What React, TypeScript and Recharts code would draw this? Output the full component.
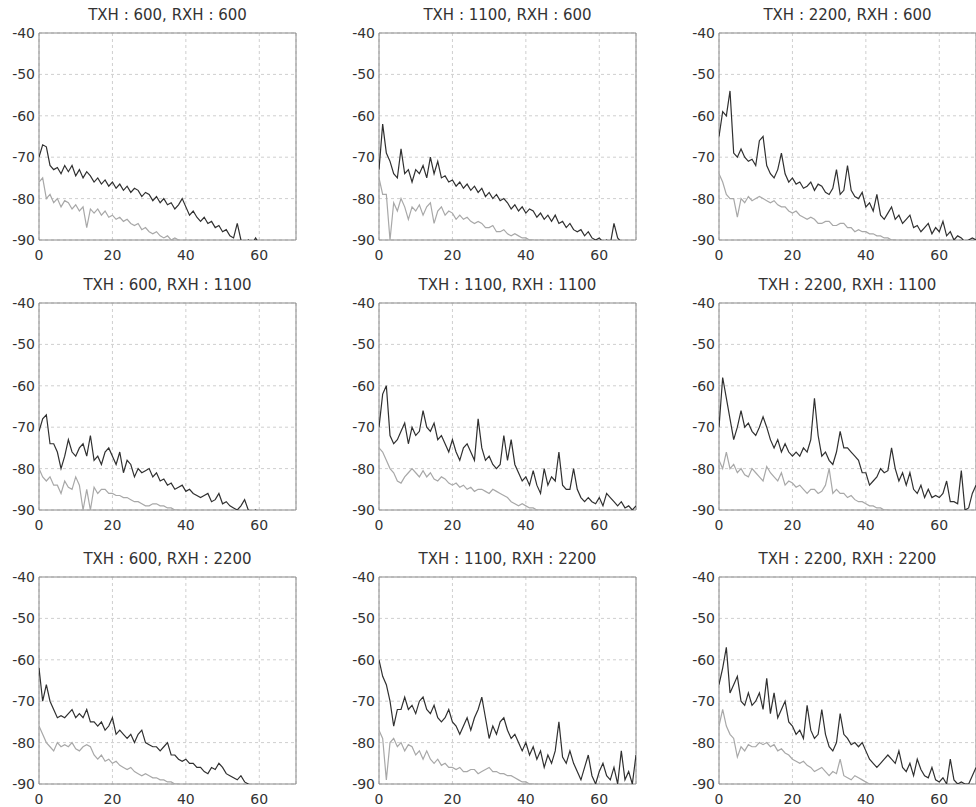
import React from 'react'
import { LineChart, Line, XAxis, YAxis, CartesianGrid, ReferenceArea } from 'recharts'

// distance axis (one sample per unit)
const DIST = [
  0, 1, 2, 3, 4, 5, 6, 7, 8, 9, 10, 11, 12, 13, 14, 15, 16, 17, 18, 19,
  20, 21, 22, 23, 24, 25, 26, 27, 28, 29, 30, 31, 32, 33, 34, 35, 36, 37, 38, 39,
  40, 41, 42, 43, 44, 45, 46, 47, 48, 49, 50, 51, 52, 53, 54, 55, 56, 57, 58, 59,
  60, 61, 62, 63, 64, 65, 66, 67, 68, 69, 70,
]
const X_TICKS = [0, 20, 40, 60]
const Y_TICKS = [-90, -80, -70, -60, -50, -40]

const TITLES = [
  'TXH : 600, RXH : 600', 'TXH : 1100, RXH : 600', 'TXH : 2200, RXH : 600',
  'TXH : 600, RXH : 1100', 'TXH : 1100, RXH : 1100', 'TXH : 2200, RXH : 1100',
  'TXH : 600, RXH : 2200', 'TXH : 1100, RXH : 2200', 'TXH : 2200, RXH : 2200',
]

// dark = upper trace, light = lower trace (dB)
const dark600_600 = [
  -70, -67, -67.5, -72, -73, -72.5, -74, -72, -73.5, -72, -74.5, -73, -75, -73.5, -74.5, -76, -75, -76.5, -75.5, -77,
  -76, -77.5, -76.5, -78, -77, -78.5, -77.5, -78, -79.5, -78.5, -79, -80.5, -79.5, -81, -80, -81.5, -81, -82.5, -81.5, -80,
  -82, -84, -83, -84.5, -85.5, -84.5, -86, -85.5, -87, -86.5, -88, -87.5, -89, -89.5, -86, -90, -91, -90, -91, -89.5,
  -91,
]
const light600_600 = [
  -76, -75, -80, -79, -81, -80, -82, -80.5, -81, -82.5, -81.5, -83, -82, -87, -82.5, -83.5, -82.5, -84, -83, -84.5,
  -84, -85, -84.5, -85.5, -85, -86, -86.5, -86, -87.5, -87, -88, -88.5, -88, -89, -89.5, -89, -90, -89.5, -90, -90.5,
  -90, -91,
]
const dark1100_600 = [
  -73, -62, -69, -71, -74, -75, -68, -74, -73, -76, -73, -74, -72, -75, -70, -74, -71, -75, -74.5, -76,
  -75.5, -77, -76, -77.5, -76.5, -78, -77, -78.5, -77.5, -79.5, -78.5, -80, -79, -80.5, -80, -81, -82.5, -81.5, -83, -82,
  -83.5, -82.5, -83, -84.5, -83.5, -85, -84, -85.5, -84, -86, -85.5, -87, -86, -87.5, -88, -87.5, -89, -88, -89.5, -90,
  -89.5, -90.5, -90, -91, -86, -89.5, -90.5, -91,
]
const light1100_600 = [
  -75, -79, -79, -90, -81, -83, -80, -82, -85, -82, -83, -81.5, -84, -82, -81, -86, -83, -82, -84, -83,
  -83.5, -85, -84, -85, -84.5, -85.5, -86, -85.5, -86, -87, -87, -86.5, -88, -88, -87.5, -88.5, -89, -88.5, -89, -89.5,
  -89.5, -90, -90, -90.5, -90, -91,
]
const dark2200_600 = [
  -65, -59, -60, -54, -69, -70, -68, -70, -71, -70.5, -72, -66, -65, -72, -74, -75, -73, -69, -74, -76,
  -75, -76.5, -76, -77.5, -77, -76, -78, -76.5, -77, -78.5, -79, -77.5, -73, -79, -78, -72, -78, -79.5, -80, -78.5,
  -82, -81, -83, -79, -84, -85, -83.5, -82, -85, -84, -86, -85, -84, -87, -86.5, -88, -87, -86, -88.5, -87,
  -88, -85.5, -89, -88, -90, -89, -89.5, -90.5, -90, -89.5, -90,
]
const light2200_600 = [
  -74, -76, -79, -80, -80, -84.5, -80, -81, -79.5, -80.5, -80, -79.5, -80, -80.5, -81, -80.5, -81.5, -82, -82, -83,
  -83.5, -83, -84, -84.5, -85, -84.5, -85, -86, -86, -85.5, -85.5, -86.5, -86.5, -86, -86, -87, -87, -88, -87.5, -88,
  -88, -88.5, -88.5, -89, -89, -89.5, -89.5, -90, -90, -90.5,
]
const dark600_1100 = [
  -71, -68, -67, -74, -74, -76, -80, -77, -73, -76, -77, -75, -74, -77, -72, -78, -77, -79, -76, -75,
  -77, -79, -76, -81, -78, -79, -82, -80, -81, -80.5, -80, -82, -81, -83, -82.5, -84, -83.5, -85, -84.5, -84,
  -85.5, -85, -86, -86.5, -87, -86.5, -86, -88, -87.5, -86, -88.5, -88, -89, -89.5, -90, -89, -87.5, -90, -90.5, -90,
  -91,
]
const light600_1100 = [
  -80, -82, -83, -82, -84, -84, -86, -83, -84.5, -85, -82, -84, -90, -85, -90, -84.5, -86, -85, -85, -86,
  -86, -86.5, -86.5, -87, -87, -87.5, -88, -88, -88.5, -89, -89, -88.5, -88.5, -89, -89, -89.5, -89.5, -90, -90, -91,
]
const dark1100_1100 = [
  -70, -62, -60, -72, -74, -73, -71, -69, -74, -70, -72, -71, -66, -70, -71, -69, -73, -72, -74, -76,
  -73, -76, -78, -75, -74, -76, -78, -68, -75, -78, -77, -79, -80, -79, -72, -78, -73, -79, -81, -83,
  -82, -84, -80.5, -84, -86, -80, -84, -82, -83, -76, -84, -85, -85, -80, -85, -87, -88, -87, -88, -88.5,
  -87, -89, -86, -87, -88, -89, -88, -89.5, -89, -90, -89,
]
const light1100_1100 = [
  -75, -76, -78, -80, -81, -83, -83.5, -82, -81, -80, -81, -82, -80.5, -82, -81, -82.5, -83, -82, -82.5, -83.5,
  -84, -83.5, -84.5, -84, -85, -84.5, -85.5, -85, -85, -85.5, -86, -85, -85.5, -86, -86.5, -87, -88, -88.5, -89, -88.5,
  -89, -89.5, -89.5, -90, -90, -90.5, -91,
]
const dark2200_1100 = [
  -70, -58, -63, -68, -73, -70, -66, -70, -69, -71, -72, -70, -67.5, -70, -73, -75, -73, -76, -74, -76,
  -77, -76, -77, -75, -76, -73, -63, -72, -77, -76, -78, -79, -76, -71, -75, -75, -76, -77, -78, -81,
  -81, -84, -83, -82, -80, -81, -80.5, -75, -80, -83, -81, -84, -81, -85, -86, -84, -87, -85, -87, -86.5,
  -87, -86, -83, -88, -88, -88.5, -80.5, -90, -89.5, -86, -84,
]
const light2200_1100 = [
  -78, -80, -76, -80, -79, -81, -80, -81.5, -82, -80, -81, -82, -83, -79.5, -81, -82, -83, -81, -84, -83,
  -83.5, -84.5, -84, -85, -86, -85, -85, -86, -85.5, -84, -80, -86, -85, -86, -86, -87, -86.5, -87.5, -88, -88,
  -88.5, -89, -89, -89.5, -89.5, -90, -90, -90.5, -91,
]
const dark600_2200 = [
  -62, -70, -66, -70, -72, -74, -73.5, -74, -73, -72, -74, -73, -74, -72, -75, -75, -76, -75, -77, -76,
  -74, -78, -77, -78, -79, -78, -80, -78, -77, -80, -80.5, -81, -81, -82, -81, -80, -83, -83, -84, -84.5,
  -84, -85, -85, -86, -86, -87, -87.5, -86, -86.5, -85, -86, -87.5, -88, -88.5, -89, -88, -89.5, -90, -90.5, -91,
]
const light600_2200 = [
  -76, -78, -80, -81, -82, -80, -81, -80.5, -81, -80, -81.5, -82, -81, -80.5, -81, -83, -84, -83, -84.5, -84,
  -85, -84.5, -85.5, -86, -86.5, -86, -87, -87.5, -88, -87.5, -88, -88.5, -88.5, -89, -89, -89.5, -89.5, -90, -90, -90.5,
  -91,
]
const dark1100_2200 = [
  -60, -64, -66, -70, -76, -72, -72, -69, -72, -71, -73, -70, -69, -72, -73, -71, -74, -75, -74, -72,
  -75, -76, -78, -76, -74, -77, -74, -72, -69, -74, -79, -76, -78, -75, -74, -77, -79, -78, -80, -82,
  -80, -83, -81, -84, -82, -86, -83, -85, -82, -75, -83.5, -85, -82, -85, -87, -89, -86, -83, -88, -90,
  -87, -85, -88, -89, -86, -90, -82, -89, -87, -90, -83,
]
const light1100_2200 = [
  -77, -79, -89, -80, -79, -81, -80, -82, -80.5, -81, -83, -82, -84, -82, -84, -85, -84, -85.5, -85, -86,
  -86, -86.5, -86, -87, -87, -86.5, -86.5, -87.5, -87, -86.5, -86, -87, -87, -87.5, -87.5, -88, -88, -88.5, -89, -89.5,
  -89.5, -90, -90, -91,
]
const dark2200_2200 = [
  -66, -62, -57, -68, -66, -64, -70, -71, -68, -71, -70, -68, -72, -64.5, -73, -68, -74, -72, -70, -75,
  -76, -78, -77, -79, -71, -77, -79, -78, -72, -78, -81, -82, -80, -73, -78, -79, -80.5, -80, -81, -80,
  -82, -84, -85, -86, -85, -84, -83, -84, -85, -82, -86, -87, -85, -88, -84, -86.5, -88, -88.5, -86, -89,
  -89.5, -88.5, -90, -84, -89, -90, -89.5, -90, -90, -88, -86,
]
const light2200_2200 = [
  -76, -72, -76, -78, -79, -83.5, -81, -82, -80.5, -81, -81, -80, -80.5, -80, -81, -80.5, -82, -81.5, -82.5, -83,
  -84, -84.5, -85, -84.5, -85.5, -86, -87, -86.5, -86, -87, -88, -87, -87.5, -84, -88, -88.5, -89, -88, -88.5, -89,
  -89.5, -90, -90, -91,
]

const DARK = [
  dark600_600, dark1100_600, dark2200_600,
  dark600_1100, dark1100_1100, dark2200_1100,
  dark600_2200, dark1100_2200, dark2200_2200,
]
const LIGHT = [
  light600_600, light1100_600, light2200_600,
  light600_1100, light1100_1100, light2200_1100,
  light600_2200, light1100_2200, light2200_2200,
]

const COL_LEFT = [39, 379, 719]
const ROW_TOP = [33, 303, 577]
const PLOT_W = 257
const PLOT_H = 207
const AXIS_W = 40
const TOP_PAD = 12
const FONT = '"DejaVu Sans", sans-serif'

function Panel({ title, dark, light, left, top }) {
  const data = DIST.map((x, i) => ({
    x,
    dark: dark[i] ?? null,
    light: light[i] ?? null,
  }))
  const tick = { fontSize: 14, fill: '#333', fontFamily: FONT }

  return (
    <>
      <div
        style={{
          position: 'absolute', left, top: top - 27, width: PLOT_W, height: 18,
          lineHeight: '18px', textAlign: 'center', fontFamily: FONT, fontSize: 15, color: '#333',
          whiteSpace: 'nowrap',
        }}
      >
        {title}
      </div>
      <div style={{ position: 'absolute', left: left - AXIS_W, top: top - TOP_PAD }}>
        <LineChart
          width={AXIS_W + PLOT_W + 3}
          height={TOP_PAD + PLOT_H + 30}
          data={data}
          margin={{ top: TOP_PAD, right: 3, bottom: 0, left: 0 }}
        >
          <CartesianGrid stroke="#cfcfcf" strokeDasharray="3 3" />
          <XAxis
            dataKey="x"
            type="number"
            domain={[0, 70]}
            ticks={X_TICKS}
            interval={0}
            allowDataOverflow
            axisLine={false}
            tickLine={false}
            tickSize={0}
            tickMargin={10}
            height={30}
            tick={tick}
          />
          <YAxis
            type="number"
            domain={[-90, -40]}
            ticks={Y_TICKS}
            interval={0}
            allowDataOverflow
            axisLine={false}
            tickLine={false}
            tickSize={0}
            tickMargin={4}
            width={AXIS_W}
            tick={tick}
          />
          <ReferenceArea x1={0} x2={70} y1={-90} y2={-40} fill="none" stroke="#8a8a8a" strokeWidth={1} />
          <Line
            dataKey="light"
            type="linear"
            stroke="#a8a8a8"
            strokeWidth={1.2}
            dot={false}
            isAnimationActive={false}
          />
          <Line
            dataKey="dark"
            type="linear"
            stroke="#303030"
            strokeWidth={1.2}
            dot={false}
            isAnimationActive={false}
          />
        </LineChart>
      </div>
    </>
  )
}

export default function App() {
  return (
    <div
      style={{
        position: 'absolute', left: 0, top: 0, width: 976, height: 807,
        overflow: 'hidden', background: '#fff',
      }}
    >
      {TITLES.map((title, i) => (
        <Panel
          key={title}
          title={title}
          dark={DARK[i]}
          light={LIGHT[i]}
          left={COL_LEFT[i % 3]}
          top={ROW_TOP[Math.floor(i / 3)]}
        />
      ))}
    </div>
  )
}
